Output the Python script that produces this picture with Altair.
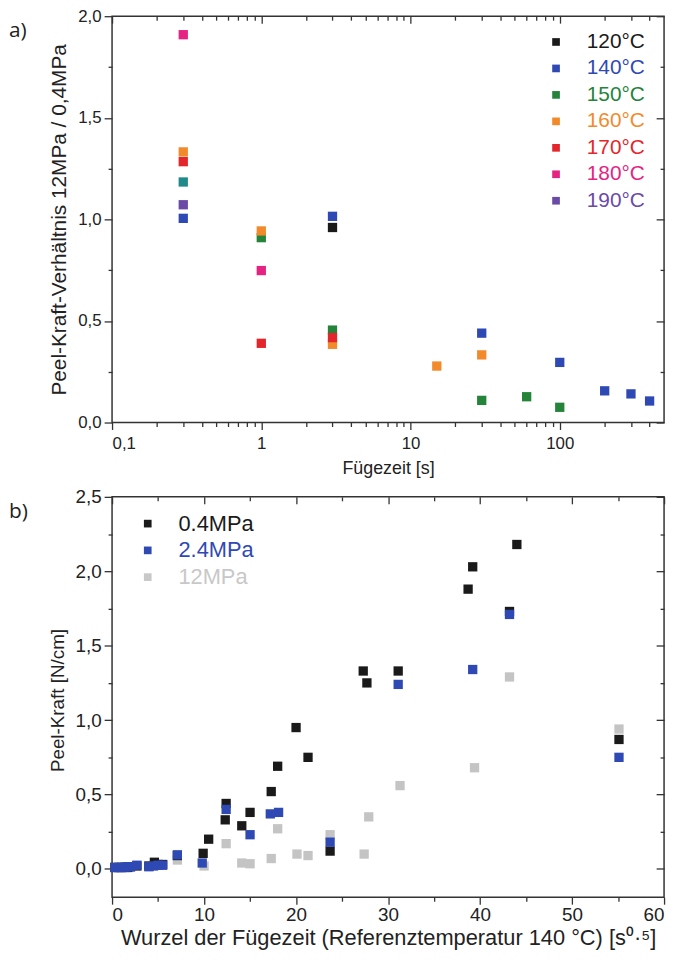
import altair as alt
import pandas as pd

# ---------------- Panel a) data ----------------
temps = ["120°C", "140°C", "150°C", "160°C", "170°C", "180°C", "190°C"]
temp_colors = ["#1a1a1a", "#2f49b4", "#23843a", "#f28a2b", "#e3262b", "#e52383", "#6a4aa6"]

a_t_120 = [3]
a_r_120 = [0.96]
a_t_140 = [0.3, 3, 30, 100, 200, 300, 400]
a_r_140 = [1.005, 1.015, 0.44, 0.296, 0.156, 0.141, 0.106]
a_t_150 = [1, 3, 30, 60, 100]
a_r_150 = [0.91, 0.455, 0.109, 0.127, 0.075]
a_t_160 = [0.3, 1, 3, 15, 30]
a_r_160 = [1.332, 0.943, 0.385, 0.278, 0.333]
a_t_170 = [0.3, 1, 3]
a_r_170 = [1.284, 0.39, 0.418]
a_t_180 = [0.3, 1]
a_r_180 = [1.909, 0.748]
a_t_190 = [0.3]
a_r_190 = [1.072]
# extra point (teal) without a legend entry
a_t_extra = [0.3]
a_r_extra = [1.184]

a_x_major = [0.1, 1, 10, 100]
a_x_minor = [0.2, 0.3, 0.4, 0.5, 0.6, 0.7, 0.8, 0.9,
             2, 3, 4, 5, 6, 7, 8, 9,
             20, 30, 40, 50, 60, 70, 80, 90,
             200, 300, 400]
a_y_major = [0.0, 0.5, 1.0, 1.5, 2.0]
a_y_minor = [0.25, 0.75, 1.25, 1.75]

# ---------------- Panel b) data ----------------
pressures = ["0.4MPa", "2.4MPa", "12MPa"]
pressure_colors = ["#1a1a1a", "#2f49b4", "#c4c4c4"]

b_x_04 = [0.3, 0.7, 1.0, 1.4, 1.7, 2.0, 2.7, 4.0, 4.6, 5.0, 5.5, 7.1, 9.9, 10.5,
          12.3, 12.4, 14.1, 15.0, 17.3, 18.0, 20.0, 21.3, 23.7, 27.3, 27.7, 31.1,
          38.7, 39.2, 43.2, 44.0, 55.1]
b_y_04 = [0.01, 0.01, 0.01, 0.01, 0.01, 0.015, 0.02, 0.02, 0.045, 0.03, 0.03, 0.09, 0.105, 0.20,
          0.33, 0.44, 0.29, 0.38, 0.52, 0.69, 0.95, 0.75, 0.12, 1.33, 1.25, 1.33,
          1.88, 2.03, 1.73, 2.18, 0.87]
b_x_24 = [0.3, 0.7, 1.0, 1.4, 1.7, 2.0, 2.7, 4.0, 4.5, 5.0, 5.5, 7.1, 9.8,
          12.4, 15.0, 17.2, 18.1, 23.7, 31.1, 39.2, 43.2, 55.1]
b_y_24 = [0.01, 0.01, 0.01, 0.012, 0.015, 0.015, 0.025, 0.015, 0.02, 0.025, 0.025, 0.095, 0.04,
          0.40, 0.23, 0.37, 0.38, 0.18, 1.24, 1.34, 1.71, 0.75]
b_x_12 = [7.1, 10.0, 12.4, 14.1, 15.0, 17.3, 18.0, 20.1, 21.3, 23.7, 27.4, 27.9,
          31.3, 39.4, 43.2, 55.1]
b_y_12 = [0.06, 0.02, 0.17, 0.04, 0.035, 0.07, 0.27, 0.10, 0.09, 0.23, 0.10, 0.35,
          0.56, 0.68, 1.29, 0.94]

b_x_major = [0, 10, 20, 30, 40, 50, 60]
b_x_minor = [5, 15, 25, 35, 45, 55]
b_y_major = [0.0, 0.5, 1.0, 1.5, 2.0, 2.5]
b_y_minor = [0.25, 0.75, 1.25, 1.75, 2.25]

# ---------------- tables ----------------
rows = []
for lab, ts, rs in [("120°C", a_t_120, a_r_120), ("140°C", a_t_140, a_r_140),
                    ("150°C", a_t_150, a_r_150), ("160°C", a_t_160, a_r_160),
                    ("170°C", a_t_170, a_r_170), ("180°C", a_t_180, a_r_180),
                    ("190°C", a_t_190, a_r_190), ("extra", a_t_extra, a_r_extra)]:
    for t, r in zip(ts, rs):
        rows.append({"serie": lab, "t": t, "v": r})
df_a = pd.DataFrame(rows)

rows = []
for lab, xs, ys in [("12MPa", b_x_12, b_y_12), ("0.4MPa", b_x_04, b_y_04), ("2.4MPa", b_x_24, b_y_24)]:
    for x, y in zip(xs, ys):
        rows.append({"serie": lab, "t": x, "v": y})
df_b = pd.DataFrame(rows)

FONT = "Liberation Sans"
W = 557
HA = 410
HB = 404
COMMA = "replace(format(datum.value, '.1f'), '.', ',')"


def ax(**k):
    base = dict(labelFont=FONT, labelColor="#222",
                titleFont=FONT, titleColor="#222",
                titleFontWeight="normal", tickColor="#333", tickWidth=1.3,
                domain=False, grid=False)
    base.update(k)
    return alt.Axis(**base)


def panel(df, xscale, yscale, xmaj, xmin, ymaj, ymin, xtitle, ytitle, xlab, ylab,
          cscale, H, tag, leg_labels, leg_colors, leg_x, leg_y0, leg_dy, leg_fs,
          lab_fs, xt_fs, yt_fs, xl_pad, xt_pad, yt_pad, yt_y):
    specs = [
        (ax(orient="bottom", values=xmin, labels=False, title=None, tickSize=4),
         ax(orient="left", values=ymin, labels=False, title=None, tickSize=4)),
        (ax(orient="top", values=xmaj, labels=False, title=None, tickSize=7, offset=-7),
         ax(orient="right", values=ymaj, labels=False, title=None, tickSize=8, offset=-8)),
        (ax(orient="top", values=xmin, labels=False, title=None, tickSize=4, offset=-4),
         ax(orient="right", values=ymin, labels=False, title=None, tickSize=4, offset=-4)),
    ]
    layers = []
    for xa, ya in specs:
        layers.append(alt.Chart(df).mark_square(opacity=0).encode(
            x=alt.X("t:Q", scale=xscale, axis=xa),
            y=alt.Y("v:Q", scale=yscale, axis=ya)))
    layers.append(alt.Chart(df).mark_square(size=88, opacity=1).encode(
        x=alt.X("t:Q", scale=xscale,
                axis=ax(orient="bottom", values=xmaj, title=xtitle, labelExpr=xlab,
                        labelFontSize=lab_fs, titleFontSize=xt_fs,
                        tickSize=7, labelPadding=xl_pad, titlePadding=xt_pad)),
        y=alt.Y("v:Q", scale=yscale,
                axis=ax(orient="left", values=ymaj, title=ytitle, labelExpr=ylab,
                        labelFontSize=lab_fs, titleFontSize=yt_fs, titleY=yt_y,
                        tickSize=8, labelPadding=3, titlePadding=yt_pad)),
        color=alt.Color("serie:N", scale=cscale, legend=None)))
    # manual legend with coloured labels
    for i, (lab, col) in enumerate(zip(leg_labels, leg_colors)):
        d = pd.DataFrame({"l": [lab]})
        layers.append(alt.Chart(d).mark_square(size=60, opacity=1, color=col).encode(
            x=alt.value(leg_x), y=alt.value(leg_y0 + i * leg_dy)))
        layers.append(alt.Chart(d).mark_text(align="left", baseline="middle", font=FONT,
                                             fontSize=leg_fs, color=col).encode(
            text="l:N", x=alt.value(leg_x + 31), y=alt.value(leg_y0 + i * leg_dy)))
    layers.append(alt.Chart(pd.DataFrame({"l": [tag]})).mark_text(
        align="left", baseline="middle", font="Open Sans", fontSize=21, color="#222").encode(
        text="l:N", x=alt.value(-104), y=alt.value(15)))
    return alt.layer(*layers).resolve_axis(x="independent", y="independent").properties(
        width=W, height=H)


top = panel(
    df_a,
    alt.Scale(type="log", domain=[0.1, 500], nice=False),
    alt.Scale(domain=[0, 2.0], nice=False, zero=False),
    a_x_major, a_x_minor, a_y_major, a_y_minor,
    "Fügezeit [s]", "Peel-Kraft-Verhältnis 12MPa / 0,4MPa",
    "replace(toString(datum.value), '.', ',')", COMMA,
    alt.Scale(domain=temps + ["extra"], range=temp_colors + ["#1f8a8a"]),
    HA, "a)", temps, temp_colors, 448, 26, 26.7, 21,
    17, 18, 21, 6, 8, 8, 205)

bottom = panel(
    df_b,
    alt.Scale(domain=[0, 60], nice=False),
    alt.Scale(domain=[-0.19, 2.5], nice=False, zero=False),
    b_x_major, b_x_minor, b_y_major, b_y_minor,
    "Wurzel der Fügezeit (Referenztemperatur 140 °C) [s⁰·⁵]", "Peel-Kraft [N/cm]",
    "toString(datum.value)", COMMA,
    alt.Scale(domain=pressures, range=pressure_colors),
    HB, "b)", pressures, ["#1a1a1a", "#2f49b4", "#c8c8c8"], 36, 27, 27, 22,
    19, 22, 19, 1, 4, 8, 205)

chart = alt.vconcat(top, bottom, spacing=9).resolve_scale(color="independent").properties(
    padding={"left": 0, "top": -6, "right": 5, "bottom": 0}
).configure_view(stroke="#333", strokeWidth=1.5)

chart.save("out.html", embed_options={"renderer": "svg", "actions": False})
